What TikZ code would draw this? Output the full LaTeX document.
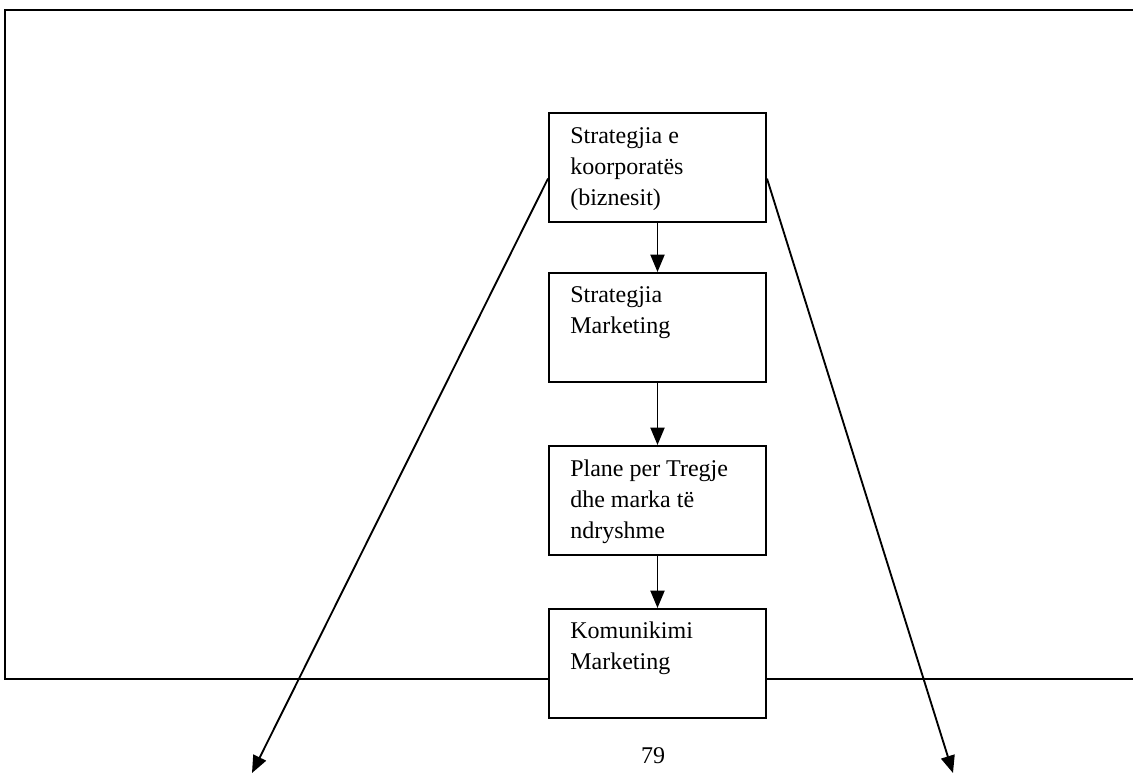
\documentclass[tikz,border=0pt]{standalone}
\usepackage{fontspec}
\setmainfont{Liberation Serif}
\usetikzlibrary{arrows.meta,calc}

\tikzset{
  stage/.style={draw, line width=1.5pt, fill=white, rectangle,
    minimum width=162.75pt, minimum height=81.75pt, anchor=north west,
    inner sep=0pt},
  % first baseline sits 14pt below the node's top edge
  stagetext/.style={anchor=north west, inner sep=0pt, align=left,
    yshift=14pt, font=\fontsize{18}{23.25}\selectfont,
    execute at begin node=\rule{0pt}{14pt}},
  flow/.style={line width=1.4pt, -{Triangle[length=13pt,width=10.5pt]}},
  frame/.style={line width=1.9pt},
}

\begin{document}
\begin{tikzpicture}[x=0.75pt,y=-0.75pt]
  \useasboundingbox (0,0) rectangle (1133,775);

  % open frame (right side runs off the page)
  \draw[frame] (1133,10) -- (5,10) -- (5,679) -- (1133,679);

  % stages
  \node[stage] (b1) at (548,112) {};
  \node[stage] (b2) at (548,272) {};
  \node[stage] (b3) at (548,445) {};
  \node[stage] (b4) at (548,608) {};

  \node[stagetext] (t1) at ($(b1.north west)+(22,34)$)
    {Strategjia e\\koorporatës\\(biznesit)};
  \node[stagetext] (t2) at ($(b2.north west)+(22,33)$)
    {Strategjia\\Marketing};
  \node[stagetext] (t3) at ($(b3.north west)+(22,33)$)
    {Plane per Tregje\\dhe marka të\\ndryshme};
  \node[stagetext] (t4) at ($(b4.north west)+(22,32)$)
    {Komunikimi\\Marketing};

  % vertical flow
  \draw[flow] (b1.south) -- (b2.north);
  \draw[flow] (b2.south) -- (b3.north);
  \draw[flow] (b3.south) -- (b4.north);

  % diagonal outputs
  \coordinate (leftend) at (252,773);
  \coordinate (rightend) at (953,773);
  \draw[flow] ($(b1.north west)!0.6!(b1.south west)$) -- (leftend);
  \draw[flow] ($(b1.north east)!0.6!(b1.south east)$) -- (rightend);

  % page number
  \node[stagetext, anchor=north] (pg) at (653,763) {79};
\end{tikzpicture}
\end{document}
